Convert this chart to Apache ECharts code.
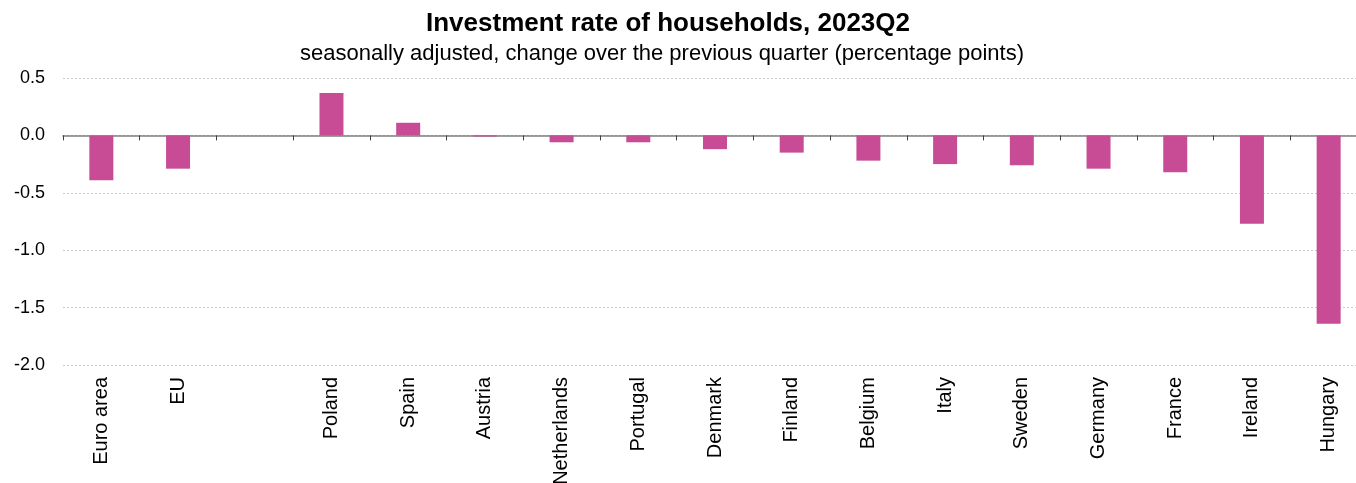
<!DOCTYPE html>
<html><head><meta charset="utf-8">
<script src="https://cdn.jsdelivr.net/npm/echarts@6/dist/echarts.min.js"></script>
<style>html,body{margin:0;padding:0;background:#fff}#c{width:1356px;height:483px}</style>
</head><body><div id="c"></div>
<script>
const categories = ['Euro area','EU','','Poland','Spain','Austria','Netherlands','Portugal','Denmark','Finland','Belgium','Italy','Sweden','Germany','France','Ireland','Hungary'];
const values = [-0.39,-0.29,null,0.37,0.11,-0.01,-0.06,-0.06,-0.12,-0.15,-0.22,-0.25,-0.26,-0.29,-0.32,-0.77,-1.64];
const titleText = 'Investment rate of households, 2023Q2';
const subtitleText = 'seasonally adjusted, change over the previous quarter (percentage points)';

const FONT = '"Liberation Sans", Arial, sans-serif';
const chart = echarts.init(document.getElementById('c'), null, {renderer:'canvas'});
chart.setOption({
  animation:false,
  backgroundColor:'#fff',
  graphic:[
    {type:'text', x:668, y:24, style:{text:titleText, font:'bold 26px ' + FONT, fill:'#000', textAlign:'center', textVerticalAlign:'middle'}},
    {type:'text', x:662, y:54, style:{text:subtitleText, font:'22px ' + FONT, fill:'#000', textAlign:'center', textVerticalAlign:'middle'}}
  ],
  grid:{left:63, width:1304, top:78, height:287, containLabel:false, outerBoundsMode:'none'},
  xAxis:{
    type:'category', data:categories,
    axisLine:{onZero:true, lineStyle:{color:'#808080', width:1.5}},
    axisTick:{show:true, alignWithLabel:false, length:5, inside:false, lineStyle:{color:'#404040'}},
    axisLabel:{rotate:90, interval:0, margin:12, fontSize:20, color:'#000', fontFamily:FONT, verticalAlign:'middle'},
    splitLine:{show:false}
  },
  yAxis:{
    type:'value', min:-2, max:0.5, interval:0.5,
    axisLine:{show:false}, axisTick:{show:false},
    axisLabel:{margin:18, fontSize:18, color:'#000', fontFamily:FONT, formatter:v=>v.toFixed(1)},
    splitLine:{lineStyle:{color:'#c8c8c8', type:[2,2], width:1}}
  },
  series:[{type:'bar', data:values, barWidth:24, itemStyle:{color:'#C84C95'}}]
});
</script></body></html>
